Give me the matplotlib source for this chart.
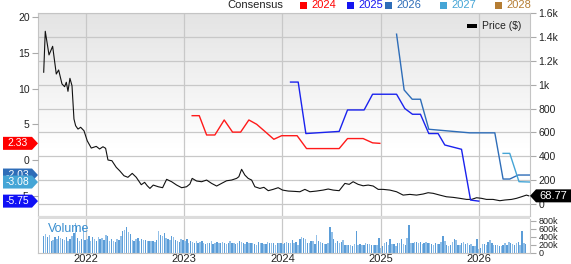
import numpy as np
import matplotlib
matplotlib.use("Agg")
import matplotlib.pyplot as plt
from matplotlib.patches import Polygon, Rectangle
from matplotlib.transforms import blended_transform_factory

plt.rcParams['font.family'] = ['Liberation Sans', 'DejaVu Sans']

# price ($), right axis - x in decimal years
price_t = [2021.570, 2021.586, 2021.624, 2021.661, 2021.698, 2021.722, 2021.756, 2021.783,
           2021.800, 2021.817, 2021.837, 2021.858, 2021.878, 2021.895, 2021.919, 2021.946,
           2021.980, 2022.013, 2022.054, 2022.105, 2022.139, 2022.173, 2022.200, 2022.224,
           2022.264, 2022.308, 2022.343, 2022.387, 2022.427, 2022.471, 2022.512, 2022.563,
           2022.597, 2022.624, 2022.651, 2022.685, 2022.736, 2022.780, 2022.821, 2022.872,
           2022.923, 2022.974, 2023.024, 2023.058, 2023.081, 2023.126, 2023.177, 2023.228,
           2023.279, 2023.330, 2023.380, 2023.431, 2023.482, 2023.533, 2023.556, 2023.584,
           2023.617, 2023.651, 2023.686, 2023.719, 2023.770, 2023.811, 2023.855, 2023.905,
           2023.956, 2024.001, 2024.058, 2024.126, 2024.177, 2024.228, 2024.279, 2024.347,
           2024.414, 2024.465, 2024.516, 2024.577, 2024.635, 2024.679, 2024.719, 2024.770,
           2024.821, 2024.872, 2024.923, 2024.974, 2025.024, 2025.093, 2025.161, 2025.228,
           2025.296, 2025.364, 2025.431, 2025.482, 2025.533, 2025.601, 2025.669, 2025.737,
           2025.805, 2025.873, 2025.924, 2025.975, 2026.025, 2026.076, 2026.143, 2026.212,
           2026.263, 2026.331, 2026.382, 2026.432, 2026.483, 2026.507]
price_v = [1104, 1447, 1249, 1321, 1089, 1123, 1006, 983,
           1020, 944, 1053, 991, 712, 656, 628, 643,
           614, 530, 469, 483, 461, 480, 467, 369,
           363, 308, 279, 237, 224, 257, 224, 162,
           182, 153, 131, 159, 145, 137, 207, 187,
           159, 137, 145, 168, 215, 193, 187, 201,
           173, 151, 173, 195, 201, 215, 229, 291,
           243, 215, 201, 145, 131, 140, 112, 123,
           137, 117, 109, 106, 103, 123, 103, 109,
           117, 126, 117, 112, 173, 165, 187, 165,
           153, 159, 151, 123, 123, 117, 103, 75,
           81, 75, 84, 95, 90, 75, 61, 56,
           48, 39, 39, 53, 48, 39, 39, 28,
           34, 39, 48, 61, 75, 68.77]
last_price = "68.77"

# consensus EPS estimates, left axis
c2024_t = [2023.081, 2023.153, 2023.228, 2023.312, 2023.407, 2023.492, 2023.574, 2023.658,
           2023.737, 2023.821, 2023.912, 2023.991, 2024.149, 2024.245, 2024.577, 2024.662,
           2024.821, 2024.917, 2024.991]
c2024_v = [6.2, 6.2, 3.5, 3.5, 5.6, 3.9, 3.9, 5.6, 5.0, 4.0, 2.9, 3.4, 3.4, 1.6, 1.6, 3.0,
           3.0, 2.4, 2.33]
c2025_t = [2024.082, 2024.160, 2024.238, 2024.577, 2024.662, 2024.831, 2024.917, 2025.161,
           2025.245, 2025.323, 2025.404, 2025.489, 2025.584, 2025.652, 2025.822, 2025.914,
           2025.998]
c2025_v = [10.9, 10.9, 3.7, 4.0, 7.0, 7.0, 9.2, 9.2, 7.2, 6.4, 6.4, 3.7, 3.7, 2.1, 1.5,
           -5.6, -5.75]
c2026_t = [2025.161, 2025.238, 2025.320, 2025.404, 2025.489, 2025.906, 2026.161, 2026.245,
           2026.313, 2026.398, 2026.517]
c2026_v = [17.6, 9.8, 8.5, 8.5, 4.3, 3.8, 3.8, -2.66, -2.66, -2.1, -2.1]
c2027_t = [2026.245, 2026.313, 2026.407, 2026.517]
c2027_v = [0.93, 0.93, -3.03, -3.08]

end_labels = ["2.33", "-2.03", "-3.08", "-5.75"]
end_values = [2.33, -2.1, -3.08, -5.75]

# weekly volume (thousands)
volume_start = 2021.57
volume = [420, 480, 390, 450, 300, 330, 400, 360, 420, 380, 350, 320, 390, 300, 360, 420,
          500, 750, 380, 300, 340, 680, 330,
          360, 420, 300, 390, 350, 300, 410, 340, 380, 330, 450, 420, 310, 360, 300, 280,
          350, 330, 420, 540, 580, 650, 520, 480, 330, 300, 350, 380, 300, 340, 330, 320,
          300, 310, 290, 300, 280, 320, 560, 460, 420, 500, 380, 360, 320, 430, 400, 330,
          300, 280, 350, 320,
          300, 340, 260, 310, 280, 250, 300, 260, 280, 300, 240, 220, 260, 250, 300, 230,
          250, 270, 260, 240, 280, 250, 230, 260, 290, 250, 240, 220, 260, 300, 280, 250,
          230, 280, 260, 240, 260, 230, 210, 280, 260, 240, 220, 230, 270, 250, 260, 240,
          200, 250, 240, 260,
          230, 250, 270, 240, 260, 320, 260, 280, 200, 340, 400, 380, 360, 240, 250, 310,
          290, 230, 460, 300, 280, 250, 220, 230, 250, 650, 520, 350, 240, 300, 260, 280,
          330, 210, 200, 190, 210, 180, 220, 560, 210, 230, 190, 200, 240, 230, 220, 200,
          210, 190, 200, 380,
          130, 170, 260, 280, 200, 350, 230, 220, 180, 240, 250, 340, 230, 200, 380, 690,
          260, 240, 280, 270, 260, 270, 220, 240, 280, 260, 250, 220, 200, 240, 230, 230,
          280, 430, 300, 190, 180, 200, 280, 360, 320, 200, 210, 240, 280, 230, 240, 200,
          230, 170, 180, 350,
          110, 120, 230, 230, 200, 280, 320, 250, 200, 190, 210, 170, 180, 200, 240, 210,
          270, 240, 230, 200, 250, 280, 200, 540, 250, 230]

years = [2022, 2023, 2024, 2025, 2026]
legend_years = ["2024", "2025", "2026", "2027", "2028"]
legend_colors = ["#ff0000", "#1515f0", "#2e6db8", "#45a5d6", "#b57d33"]

W, H = 571, 264
fig = plt.figure(figsize=(W / 100, H / 100), dpi=100)


def fx(px):
    return px / W


def fy(py):
    return 1 - py / H


grid_c = "#c8c8c8"
tick_kw = dict(length=4, color="#aaaaaa", labelsize=7.5, labelcolor="#222222", pad=2)
xlim = (2021.512, 2026.519)

ax = fig.add_axes([fx(38), fy(216), fx(492), 203 / H])
axV = fig.add_axes([fx(38), fy(253), fx(492), 34 / H])
axL = ax.twinx()

# gradient background
grad = np.linspace(1.0, 0.0, 256).reshape(-1, 1)
grad = np.clip(grad * 1.5 - 0.5, 0, 1)
ax.imshow(grad, extent=[0, 1, 0, 1], transform=ax.transAxes, aspect='auto',
          cmap=matplotlib.colors.LinearSegmentedColormap.from_list('g', ['#ffffff', '#e4e4e4']),
          vmin=0, vmax=1, zorder=0)

ax.set_xlim(*xlim)
ax.set_ylim(-100, 1600)
ax.yaxis.set_ticks_position('right')
ax.yaxis.set_label_position('right')
ax.set_yticks([0, 200, 400, 600, 800, 1000, 1200, 1400, 1600])
ax.set_yticklabels(["0", "200", "400", "600", "800", "1k", "1.2k", "1.4k", "1.6k"])
ax.set_xticks(years)
ax.set_xticklabels([])
ax.grid(True, color=grid_c, lw=0.9, zorder=1)
ax.tick_params(axis='x', length=0)
ax.tick_params(axis='y', **tick_kw)
for s in ax.spines.values():
    s.set_color("#c4c4c4")
ax.plot(price_t, price_v, color="#111111", lw=0.8, zorder=3)

axL.yaxis.set_ticks_position('left')
axL.yaxis.set_label_position('left')
axL.set_xlim(*xlim)
axL.set_ylim(-7.83, 20.56)
axL.set_yticks([-5, 0, 5, 10, 15, 20])
axL.tick_params(axis='y', **tick_kw)
for s in axL.spines.values():
    s.set_visible(False)
axL.plot(c2024_t, c2024_v, color="#ff1a1a", lw=1.0)
axL.plot(c2025_t, c2025_v, color="#1a22ee", lw=1.0)
axL.plot(c2026_t, c2026_v, color="#2e6db8", lw=1.0)
axL.plot(c2027_t, c2027_v, color="#45a5d6", lw=1.0)

# left end-value tags
tagT = blended_transform_factory(axL.transAxes, axL.transData)
hh = 6.5 / 7.15
x0, x1, x2 = -35 / 492, -6 / 492, 0.0
tag_colors = ["#ff0000", "#2e6db8", "#45a5d6", "#1010f5"]
for k, (lab, v, c) in enumerate(zip(end_labels, end_values, tag_colors)):
    poly = Polygon([[x0, v - hh], [x1, v - hh], [x2, v], [x1, v + hh], [x0, v + hh]],
                   closed=True, transform=tagT, facecolor=c, edgecolor='none',
                   clip_on=False, zorder=20 + 2 * k)
    axL.add_patch(poly)
    axL.text((x0 + x1) / 2, v, lab, transform=tagT, color="white", fontsize=7.5,
             ha='center', va='center', clip_on=False, zorder=21 + 2 * k)

# right last-price tag
tagR = blended_transform_factory(ax.transAxes, ax.transData)
ph = 6.5 * 1700 / 203
p = price_v[-1]
r0, r1, r2 = 1.0, 1 + 6 / 492, 1 + 41 / 492
poly = Polygon([[r0, p], [r1, p + ph], [r2, p + ph], [r2, p - ph], [r1, p - ph]],
               closed=True, transform=tagR, facecolor="#000000", edgecolor='none',
               clip_on=False, zorder=40)
axL.add_patch(poly)
axL.text((r1 + r2) / 2, p, last_price, transform=tagR, color="white", fontsize=8,
         ha='center', va='center', clip_on=False, zorder=41)

# price legend inside
fig.patches.append(Rectangle((fx(467), fy(28)), fx(10), 4 / H, transform=fig.transFigure,
                             facecolor="#000000", edgecolor='none'))
fig.text(fx(482), fy(26), "Price ($)", fontsize=7.5, color="#222222", va='center', ha='left')

# top legend
fig.text(fx(227), fy(5.5), "Consensus", fontsize=8, color="#222222", va='center', ha='left')
leg_x = [300, 347, 385, 440, 495]
for lx, lab, c in zip(leg_x, legend_years, legend_colors):
    fig.patches.append(Rectangle((fx(lx), fy(9)), fx(7), 7 / H, transform=fig.transFigure,
                                 facecolor=c, edgecolor='none'))
    fig.text(fx(lx + 11), fy(5.5), lab, fontsize=8, color=c, va='center', ha='left')

# separator band
fig.patches.append(Rectangle((fx(38), fy(219)), fx(492), 3 / H, transform=fig.transFigure,
                             facecolor="#dcdcdc", edgecolor='none'))

# volume panel
vol_t = volume_start + np.arange(len(volume)) / 52.18
bar_colors = ["#5b9dd8" if i % 2 == 0 else "#93c0e8" for i in range(len(volume))]
axV.bar(vol_t, volume, width=0.75 / 52.18, color=bar_colors, zorder=2)
axV.set_xlim(*xlim)
axV.set_ylim(0, 850)
axV.yaxis.tick_right()
axV.set_yticks([0, 200, 400, 600, 800])
axV.set_yticklabels(["0", "200k", "400k", "600k", "800k"])
axV.set_xticks(years)
axV.set_xticklabels([str(y) for y in years])
axV.grid(True, axis='x', color=grid_c, lw=0.9, zorder=1)
axV.tick_params(axis='x', length=0, labelsize=8, labelcolor="#222222", pad=1)
axV.tick_params(axis='y', length=4, color="#aaaaaa", labelsize=6.5, labelcolor="#222222", pad=2)
for s in axV.spines.values():
    s.set_color("#c4c4c4")
axV.spines['top'].set_visible(False)
axV.text(0.02, 0.72, "Volume", transform=axV.transAxes, color="#3a8fd0", fontsize=9,
         va='center', ha='left', zorder=5)

fig.savefig("out.png", dpi=100)
